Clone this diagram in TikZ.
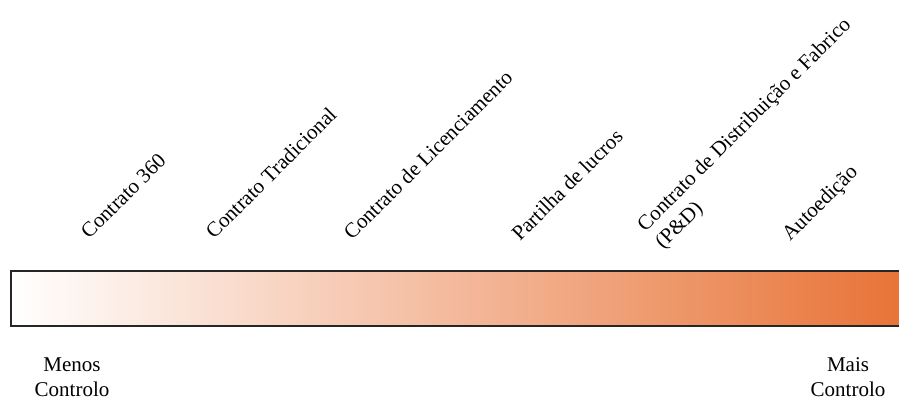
\documentclass[tikz,border=0pt]{standalone}
\usepackage{fontspec}
\setmainfont{Liberation Serif}
\begin{document}
\begin{tikzpicture}[x=1pt, y=-1pt,
    every node/.style={inner sep=0pt, font=\fontsize{21}{25}\selectfont},
    tilted/.style={rotate=45, anchor=base west, align=left},
    endlabel/.style={anchor=base, align=center}]
    % Define colors
    \definecolor{barorange}{RGB}{232,115,55}
    \definecolor{barmid}{RGB}{248,208,185}

    % Fix the picture size
    \useasboundingbox (0,0) rectangle (899,398);
    \clip (0,0) rectangle (899,398);

    % Draw the bar
    \shade[left color=white, middle color=barmid, right color=barorange] (11,271) rectangle (902,326);
    \draw[line width=2pt, black!85] (11,271) rectangle (902,326);

    % Add the contract labels
    \node[tilted] (c360) at (89,240) {Contrato 360};
    \node[tilted] (trad) at (214,240) {Contrato Tradicional};
    \node[tilted] (lic) at (352,241) {Contrato de Licenciamento};
    \node[tilted] (lucros) at (520,242) {Partilha de lucros};
    \node[tilted] (pd) at (663,250) {Contrato de Distribuição e Fabrico\\(P\&D)};
    \node[tilted] (auto) at (790,242) {Autoedição};

    % Add "Menos" and "Mais" labels
    \node[endlabel] (menos) at (72,396) {Menos\\Controlo};
    \node[endlabel] (mais) at (848,396) {Mais\\Controlo};
\end{tikzpicture}
\end{document}
